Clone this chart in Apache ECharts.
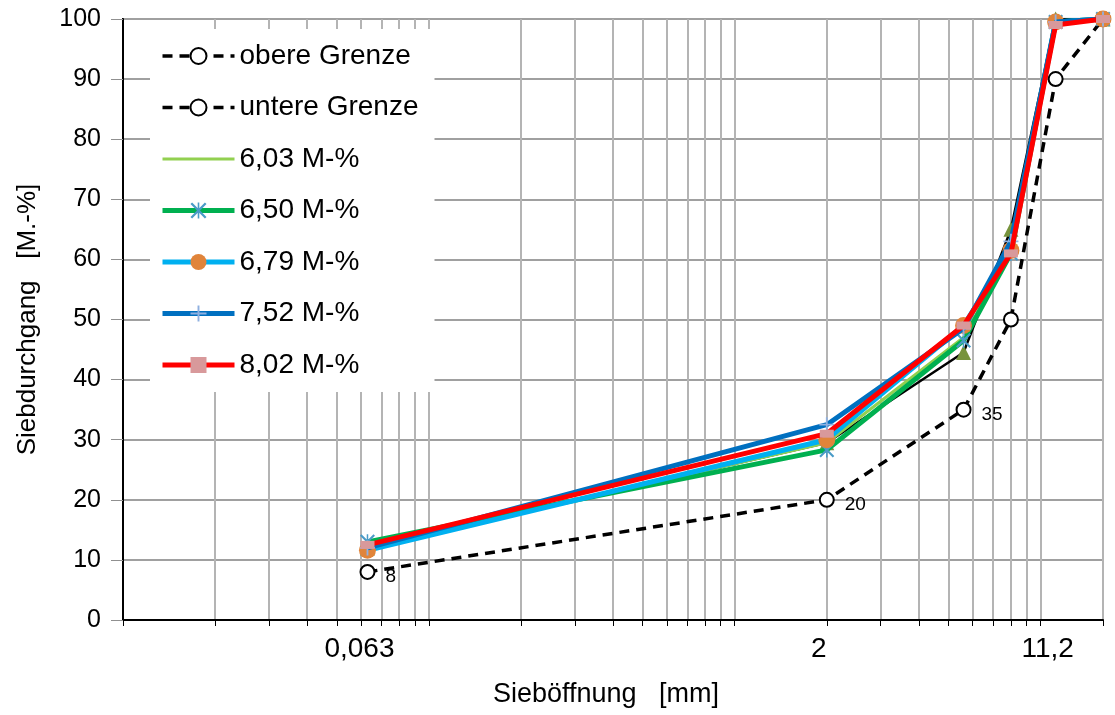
<!DOCTYPE html>
<html>
<head>
<meta charset="utf-8">
<script src="https://cdn.jsdelivr.net/npm/echarts@6/dist/echarts.min.js"></script>
<style>html,body{margin:0;padding:0;background:#fff}#c{width:1115px;height:715px}</style>
</head>
<body>
<div id="c"></div>
<script>
// Sieve sizes [mm]
const sieves = [0.063, 2, 5.6, 8, 11.2, 16];
const xLabels = [0.063, 2, 11.2];
const gridValues = [0.01,0.02,0.03,0.04,0.05,0.06,0.07,0.08,0.09,0.1,0.2,0.3,0.4,0.5,0.6,0.7,0.8,0.9,1,2,3,4,5,6,7,8,9,10,16];
// Passing percentages [M.-%]
const upperLimit = [];
const lowerLimit = [8, 20, 35, 50, 90, 100];
const lowerLabels = ['8', '20', '35', '', '', ''];
const mix603 = [12, 29.5, 47, 61.5, 99.5, 100];
const mix650 = [13, 28.3, 46.5, 61, 99.5, 100];
const mix679 = [11.6, 30, 49, 61.5, 99.5, 100];
const mix752 = [12, 32.5, 48.5, 63, 99.5, 100];
const mix802 = [12.5, 31, 49, 61, 99, 100];
const hiddenMix = [12, 29.5, 44.5, 65, 100, 100];

const pair = (ys) => sieves.map((x, i) => [x, ys[i]]);
const FONT = '"Liberation Sans", Arial, sans-serif';
const starPath = 'path://M0,1L1,0L10,9L9,10ZM9,0L10,1L1,10L0,9ZM4.5,0L5.5,0L5.5,10L4.5,10Z';
const plusPath = 'path://M4.4,0L5.6,0L5.6,4.4L10,4.4L10,5.6L5.6,5.6L5.6,10L4.4,10L4.4,5.6L0,5.6L0,4.4L4.4,4.4Z';

const chart = echarts.init(document.getElementById('c'), null, {renderer: 'canvas'});
chart.setOption({
  animation: false,
  backgroundColor: '#fff',
  grid: {left: 123, right: 12, top: 19, bottom: 95, show: true, borderColor: '#000', borderWidth: 2, backgroundColor: 'transparent'},
  legend: {
    orient: 'vertical', left: 150, top: 29,
    backgroundColor: '#fff', padding: [13, 16, 13, 10],
    itemWidth: 72, itemHeight: 20, itemGap: 23.5,
    lineStyle: {width: 'inherit'},
    textStyle: {fontFamily: FONT, fontSize: 28, color: '#000', lineHeight: 20},
    data: ['obere Grenze', 'untere Grenze',
      {name: '6,03 M-%', itemStyle: {opacity: 0}},
      '6,50 M-%', '6,79 M-%', '7,52 M-%', '8,02 M-%']
  },
  xAxis: {
    type: 'log', logBase: 10, min: 0.01, max: 16,
    name: 'Sieböffnung   [mm]', nameLocation: 'middle', nameGap: 61,
    nameTextStyle: {fontFamily: FONT, fontSize: 27, color: '#000', padding: [0, 14, 0, 0]},
    axisLine: {show: true, onZero: false, lineStyle: {color: '#000', width: 2}},
    axisTick: {show: true, length: 6, customValues: gridValues, lineStyle: {color: '#000', width: 1}},
    axisLabel: {show: true, customValues: xLabels, margin: 15, fontFamily: FONT, fontSize: 28, color: '#000',
      padding: [0, 16, 0, 0],
      formatter: (v) => String(+(+v).toPrecision(4)).replace('.', ',')},
    splitLine: {show: true, lineStyle: {color: '#b4b4b4', width: 2}},
    minorTick: {show: false}, minorSplitLine: {show: false}
  },
  yAxis: {
    type: 'value', min: 0, max: 100, interval: 10,
    name: 'Siebdurchgang   [M.-%]', nameLocation: 'middle', nameGap: 82,
    nameTextStyle: {fontFamily: FONT, fontSize: 26, color: '#000'},
    axisLine: {show: true, lineStyle: {color: '#000', width: 2}},
    axisTick: {show: true, inside: false, length: 12, lineStyle: {color: '#909090', width: 1}},
    axisLabel: {margin: 22, fontFamily: FONT, fontSize: 25, color: '#000'},
    splitLine: {show: true, lineStyle: {color: '#a0a0a0', width: 2}}
  },
  series: [
    {name: 'Mischung', type: 'line', data: pair(hiddenMix), z: 2,
     lineStyle: {color: '#000', width: 2.5}, itemStyle: {color: '#77933c'},
     symbol: 'triangle', symbolSize: 15, showSymbol: true},
    {name: 'obere Grenze', type: 'line', data: upperLimit, z: 3,
     lineStyle: {color: '#000', width: 3.5, type: [10, 7]}, itemStyle: {color: '#fff', borderColor: '#000', borderWidth: 2},
     symbol: 'circle', symbolSize: 14},
    {name: 'untere Grenze', type: 'line', data: pair(lowerLimit), z: 3,
     lineStyle: {color: '#000', width: 3.5, type: [10, 7]}, itemStyle: {color: '#fff', borderColor: '#000', borderWidth: 2},
     symbol: 'circle', symbolSize: 14,
     label: {show: true, position: 'right', distance: 10, offset: [0, 5], fontFamily: FONT, fontSize: 19, color: '#000',
       formatter: (p) => lowerLabels[p.dataIndex]}},
    {name: '6,03 M-%', type: 'line', data: pair(mix603), z: 4,
     lineStyle: {color: '#92d050', width: 3}, itemStyle: {color: '#92d050'}, symbol: 'none'},
    {name: '6,50 M-%', type: 'line', data: pair(mix650), z: 5,
     lineStyle: {color: '#00b050', width: 5}, itemStyle: {color: '#4a9bc7'},
     symbol: starPath, symbolSize: [15, 15]},
    {name: '6,79 M-%', type: 'line', data: pair(mix679), z: 6,
     lineStyle: {color: '#00b0f0', width: 5}, itemStyle: {color: '#e0843a'},
     symbol: 'circle', symbolSize: 17},
    {name: '7,52 M-%', type: 'line', data: pair(mix752), z: 7,
     lineStyle: {color: '#0070c0', width: 5}, itemStyle: {color: '#8fb0e0'},
     symbol: plusPath, symbolSize: [15, 15]},
    {name: '8,02 M-%', type: 'line', data: pair(mix802), z: 8,
     lineStyle: {color: '#ff0000', width: 5}, itemStyle: {color: '#d8999b'},
     symbol: 'rect', symbolSize: [14, 8]}
  ]
});
</script>
</body>
</html>
